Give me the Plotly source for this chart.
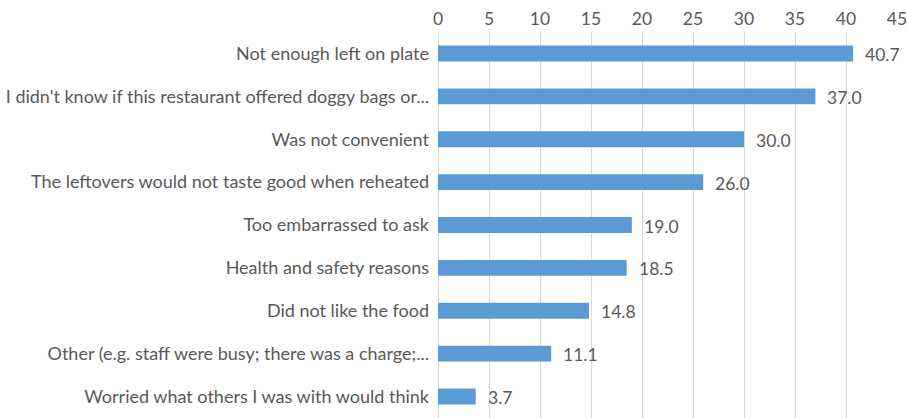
import plotly.graph_objects as go

# Reasons for not taking leftovers home, percent of respondents
reasons = [
    "Not enough left on plate",
    "I didn't know if this restaurant offered doggy bags or...",
    "Was not convenient",
    "The leftovers would not taste good when reheated",
    "Too embarrassed to ask",
    "Health and safety reasons",
    "Did not like the food",
    "Other (e.g. staff were busy; there was a charge;...",
    "Worried what others I was with would think",
]
percent = [40.7, 37.0, 30.0, 26.0, 19.0, 18.5, 14.8, 11.1, 3.7]
x_ticks = [0, 5, 10, 15, 20, 25, 30, 35, 40, 45]

FONT = "Lato"
TEXT_COLOR = "#595959"
BAR_COLOR = "#5B9BD5"

fig = go.Figure(
    go.Bar(
        x=percent,
        y=reasons,
        orientation="h",
        marker=dict(color=BAR_COLOR, line=dict(width=0)),
        hoverinfo="skip",
    )
)

# Value labels to the right of each bar
for r, v in zip(reasons, percent):
    fig.add_annotation(
        x=v, y=r, text=f"{v:.1f}", showarrow=False,
        xanchor="left", xshift=10, yshift=-1,
        font=dict(family=FONT, size=17.5, color=TEXT_COLOR),
    )

fig.update_layout(
    width=908,
    height=418,
    margin=dict(l=438, r=11, t=32, b=0),
    paper_bgcolor="white",
    plot_bgcolor="white",
    bargap=0.63,
    showlegend=False,
    font=dict(family=FONT, size=17.5, color=TEXT_COLOR),
)
fig.update_xaxes(
    side="top",
    range=[0, 45],
    tickvals=x_ticks,
    ticktext=[str(t) for t in x_ticks],
    showgrid=True,
    gridcolor="#D9D9D9",
    gridwidth=1,
    zeroline=True,
    zerolinecolor="#D9D9D9",
    zerolinewidth=1,
    showline=False,
    ticks="",
    ticklabelstandoff=3,
    tickfont=dict(family=FONT, size=17.5, color=TEXT_COLOR),
)
fig.update_yaxes(
    categoryorder="array",
    categoryarray=reasons[::-1],
    showgrid=False,
    zeroline=False,
    showline=False,
    ticks="",
    ticklabelstandoff=8,
    tickfont=dict(family=FONT, size=18, color=TEXT_COLOR),
)

fig.write_html("out.html")
